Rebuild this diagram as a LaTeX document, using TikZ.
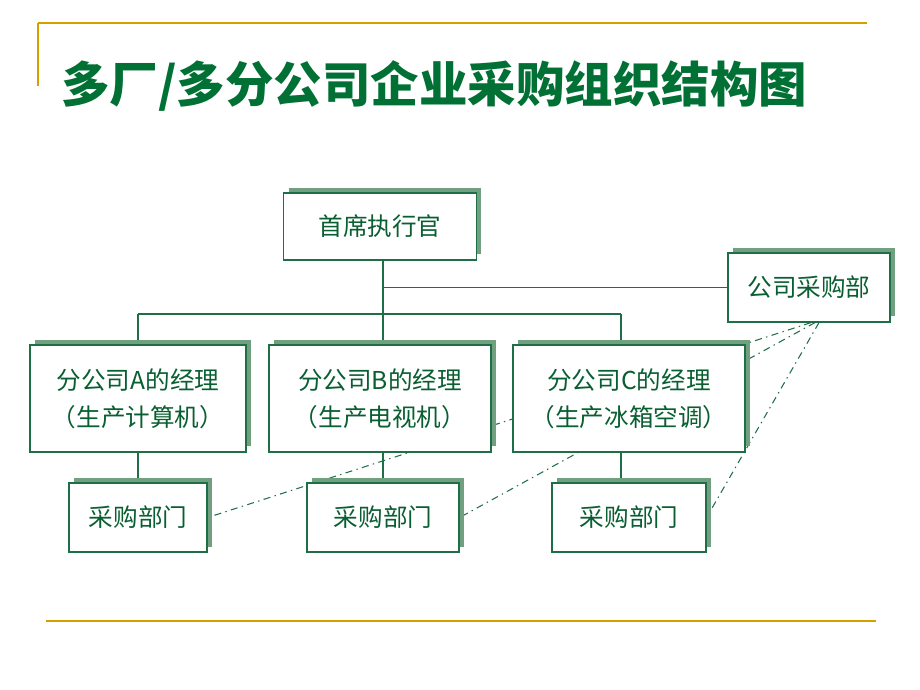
\documentclass[tikz,border=0pt]{standalone}
\usepackage{fontspec}
\setmainfont{Noto Sans CJK SC}
\usepackage{xcolor}
\usetikzlibrary{calc}
\usetikzlibrary{shadows}
\usetikzlibrary{backgrounds}

\definecolor{gold}{RGB}{212,160,0}
\definecolor{titlegreen}{RGB}{0,112,52}
\definecolor{linegreen}{RGB}{30,110,70}
\definecolor{textgreen}{RGB}{10,95,50}
\definecolor{shadowc}{RGB}{112,160,128}

\tikzset{
  orgbox/.style={draw=linegreen, line width=0.7pt, fill=white, text=textgreen,
    align=center, inner sep=0pt, font=\fontsize{14}{21}\selectfont,
    drop shadow={shadow xshift=0.1cm, shadow yshift=0.11cm, fill=shadowc, opacity=1}},
  link/.style={linegreen, line width=0.6pt},
  dotlink/.style={linegreen, line width=0.6pt, dash pattern=on 4pt off 2.5pt on 0.8pt off 2.5pt}
}

\begin{document}
\begin{tikzpicture}[x=0.02cm, y=-0.02cm]

      \useasboundingbox (0,0) rectangle (920,690);

      % Frame lines
      \draw[gold, line width=1.2pt] (38,23) -- (867,23);
      \draw[gold, line width=0.6pt] (38,23) -- (38,86);
      \draw[gold, line width=1.2pt] (46,621) -- (876,621);

      % Title
      \node[anchor=west, text=titlegreen, font=\fontsize{27.6}{31}\selectfont\bfseries] (title) at (55,86)
        {多厂/多分公司企业采购组织结构图};

      % Boxes
      \node[orgbox, minimum width=3.86cm, minimum height=1.34cm] (ceo) at (380,226.5) {首席执行官};
      \node[orgbox, minimum width=3.24cm, minimum height=1.38cm] (gscg) at (809,287.5) {公司采购部};
      \node[orgbox, minimum width=4.32cm, minimum height=2.14cm] (brA) at (138,398.5) {分公司A的经理\\（生产计算机）};
      \node[orgbox, minimum width=4.44cm, minimum height=2.14cm] (brB) at (380,398.5) {分公司B的经理\\（生产电视机）};
      \node[orgbox, minimum width=4.64cm, minimum height=2.14cm] (brC) at (629,398.5) {分公司C的经理\\（生产冰箱空调）};
      \node[orgbox, minimum width=2.76cm, minimum height=1.38cm] (cgA) at (138,517.5) {采购部门};
      \node[orgbox, minimum width=3.04cm, minimum height=1.38cm] (cgB) at (383,517.5) {采购部门};
      \node[orgbox, minimum width=3.08cm, minimum height=1.38cm] (cgC) at (629,517.5) {采购部门};

      \coordinate (bus) at (383,314);
      \coordinate (busC) at (621,314);

      \begin{scope}[on background layer]
        % Solid lines
        \draw[link] (ceo.south -| bus) -- (bus |- brB.north);
        \draw[link] (ceo.south -| bus) |- (gscg.west);
        \draw[link] (brA.north |- bus) -- (busC);
        \draw[link] (brA.north |- bus) -- (brA.north);
        \draw[link] (busC) -- (busC |- brC.north);
        \draw[link] (brA.south) -- (cgA.north);
        \draw[link] (brB.south -| bus) -- (bus |- cgB.north);
        \draw[link] (busC |- brC.south) -- (busC |- cgC.north);

        % Dash-dot lines
        \draw[dotlink] ($(gscg.south)+(2,0)$) -- (cgA.east);
        \draw[dotlink] ($(gscg.south)+(6,0)$) -- (cgB.east);
        \draw[dotlink] ($(gscg.south)+(10,0)$) -- (cgC.east);
      \end{scope}

  \end{tikzpicture}
\end{document}
